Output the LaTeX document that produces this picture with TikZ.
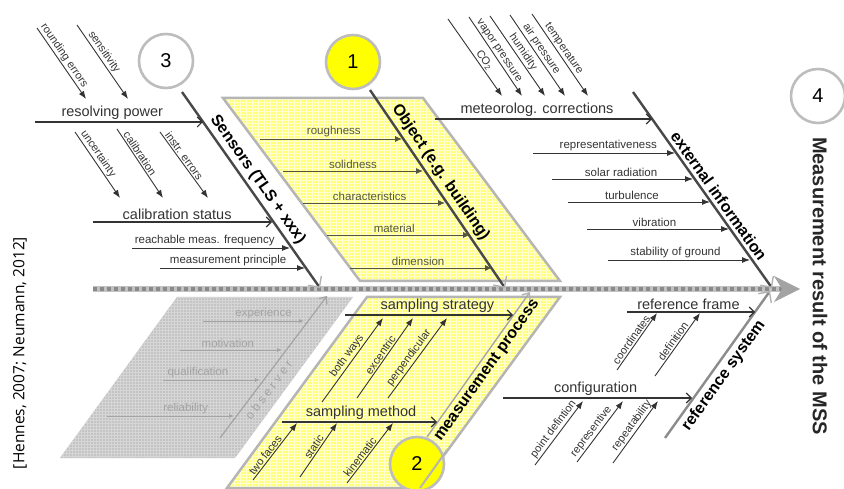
\documentclass[tikz,border=0pt]{standalone}
\usepackage{fontspec}
\setmainfont{Liberation Sans}
\newfontfamily\citefont{Open Sans}
\usetikzlibrary{arrows.meta,calc,patterns}
\definecolor{txt}{HTML}{333333}
\definecolor{linec}{HTML}{333333}
\definecolor{bonec}{HTML}{484848}
\definecolor{yel}{HTML}{FFFF7A}
\definecolor{yelgrid}{HTML}{FFFFD0}
\definecolor{yelborder}{HTML}{B5B5B5}
\definecolor{greyreg}{HTML}{C4C4C4}
\definecolor{greygrid}{HTML}{D6D6D6}
\definecolor{faint}{HTML}{A4A4A4}
\definecolor{objc}{HTML}{55553F}
\definecolor{circb}{HTML}{BDBDBD}
\definecolor{spinelight}{HTML}{C2C2C2}
\definecolor{spinedark}{HTML}{8A8A8A}
\definecolor{spinehead}{HTML}{A3A3A3}
\definecolor{numyel}{HTML}{FFFF00}
\begin{document}
\begin{tikzpicture}[x=1pt,y=-1pt,
  mainarr/.style={draw=linec, line width=1.1pt, -{Straight Barb[length=5pt,width=10pt]}},
  smallarr/.style={draw=linec, line width=0.9pt, -{Latex[length=8pt,width=6pt]}},
  objarr/.style={draw=objc, line width=0.9pt, -{Latex[length=7pt,width=6pt]}},
  faintarr/.style={draw=faint, line width=0.8pt, -{Latex[length=5pt,width=4pt]}},
  bone/.style={draw=bonec, line width=2.4pt, -{Straight Barb[length=8pt,width=16pt,line width=1.4pt,color=gray!60]}},
  mainlab/.style={font=\fontsize{14.5}{16}\selectfont, text=txt, inner sep=1.5pt},
  smalllab/.style={font=\fontsize{11.5}{13}\selectfont, text=txt, inner sep=1.5pt},
  sublab/.style={font=\fontsize{11}{12}\selectfont, text=txt, inner sep=1.2pt},
  objlab/.style={font=\fontsize{11.5}{13}\selectfont, text=objc, inner sep=1.5pt},
  faintlab/.style={font=\fontsize{11.5}{13}\selectfont, text=faint, inner sep=1.5pt},
  bonelab/.style={font=\bfseries\fontsize{16}{18}\selectfont, text=black, inner sep=3pt},
  numcirc/.style={circle, draw=circb, line width=2.6pt, minimum size=54pt, inner sep=0pt, font=\fontsize{20}{22}\selectfont},
  yelreg/.style={preaction={fill=yel}, pattern=grid, pattern color=yelgrid, draw=yelborder, line width=2.5pt},
]
\useasboundingbox (0,0) rectangle (844,489);

% ---------- regions ----------
\path[yelreg] (223,98) -- (423,98) -- (560,281) -- (360,281) -- cycle;
\path[yelreg] (367,297) -- (560,297) -- (420,488) -- (227,488) -- cycle;
\path[preaction={fill=greyreg}, pattern=grid, pattern color=greygrid] (177,297) -- (353,297) -- (235,458) -- (60,458) -- cycle;

% ---------- spine ----------
\coordinate (sp0) at (93,289);
\coordinate (sp1) at (782,289);
\draw[line width=6pt, spinelight] (sp0) -- (sp1);
\draw[line width=4pt, spinedark, dash pattern=on 4pt off 3pt] (sp0) -- (sp1);
\fill[spinehead] (774,276) -- (800,289) -- (774,302) -- (782,289) -- cycle;

% ---------- Sensors ----------
\coordinate (S0) at (182,92); \coordinate (S1) at (320,288);
\draw[bone] (S0) -- (S1) node[bonelab, sloped, above, pos=0.48] (lSens) {Sensors (TLS + xxx)};

\coordinate (rp0) at (35,122); \coordinate (rp1) at (203,122);
\draw[mainarr] (rp0) -- (rp1) node[mainlab, above, pos=0.46] (lrp) {resolving power};
\coordinate (re0) at (37,28); \coordinate (re1) at (86,99);
\draw[smallarr] (re0) -- (re1) node[sublab, sloped, above, pos=0.44] (lre) {rounding errors};
\coordinate (se0) at (77,25); \coordinate (se1) at (128,99);
\draw[smallarr] (se0) -- (se1) node[sublab, sloped, above, pos=0.42] (lse) {sensitivity};

\coordinate (cs0) at (93,222); \coordinate (cs1) at (272,222);
\draw[mainarr] (cs0) -- (cs1) node[mainlab, above, pos=0.47] (lcs) {calibration status};
\coordinate (un0) at (75,132); \coordinate (un1) at (120,198);
\draw[smallarr] (un0) -- (un1) node[sublab, sloped, above, pos=0.39] (lun) {uncertainty};
\coordinate (ca0) at (117,129); \coordinate (ca1) at (163,198);
\draw[smallarr] (ca0) -- (ca1) node[sublab, sloped, above, pos=0.40] (lca) {calibration};
\coordinate (ie0) at (160,132); \coordinate (ie1) at (208,198);
\draw[smallarr] (ie0) -- (ie1) node[sublab, sloped, above, pos=0.41] (lie) {instr. errors};

\coordinate (rf0) at (132,248); \coordinate (rf1) at (290,248);
\draw[smallarr] (rf0) -- (rf1) node[smalllab, above, pos=0.46] (lrf) {reachable meas. frequency};
\coordinate (mp0) at (160,268); \coordinate (mp1) at (305,268);
\draw[smallarr] (mp0) -- (mp1) node[smalllab, above, pos=0.47] (lmp) {measurement principle};

% ---------- Object ----------
\coordinate (O0) at (370,90); \coordinate (O1) at (505,288);
\draw[bone] (O0) -- (O1) node[bonelab, sloped, above, pos=0.45] (lObj) {Object (e.g. building)};
\coordinate (ro0) at (260,139); \coordinate (ro1) at (402,139);
\draw[objarr] (ro0) -- (ro1) node[objlab, above, pos=0.52] (lro) {roughness};
\coordinate (so0) at (283,171); \coordinate (so1) at (423,171);
\draw[objarr] (so0) -- (so1) node[objlab, above, pos=0.50] (lso) {solidness};
\coordinate (ch0) at (303,203); \coordinate (ch1) at (445,203);
\draw[objarr] (ch0) -- (ch1) node[objlab, above, pos=0.47] (lch) {characteristics};
\coordinate (ma0) at (327,235); \coordinate (ma1) at (470,235);
\draw[objarr] (ma0) -- (ma1) node[objlab, above, pos=0.47] (lma) {material};
\coordinate (di0) at (350,268); \coordinate (di1) at (492,268);
\draw[objarr] (di0) -- (di1) node[objlab, above, pos=0.48] (ldi) {dimension};

% ---------- external information ----------
\coordinate (E0) at (633,92); \coordinate (E1) at (772,288);
\draw[bone] (E0) -- (E1) node[bonelab, sloped, above, pos=0.56] (lExt) {external information};
\coordinate (mc0) at (435,119); \coordinate (mc1) at (652,119);
\draw[mainarr] (mc0) -- (mc1) node[mainlab, above, pos=0.47] (lmc) {meteorolog. corrections};
\coordinate (co0) at (448,19); \coordinate (co1) at (502,96);
\draw[smallarr] (co0) -- (co1) node[sublab, sloped, above, pos=0.58] (lco) {CO\textsubscript{2}};
\coordinate (vp0) at (469,17); \coordinate (vp1) at (522,96);
\draw[smallarr] (vp0) -- (vp1) node[sublab, sloped, above, pos=0.47] (lvp) {vapor pressure};
\coordinate (hu0) at (490,16); \coordinate (hu1) at (545,96);
\draw[smallarr] (hu0) -- (hu1) node[sublab, sloped, above, pos=0.50] (lhu) {humidity};
\coordinate (ap0) at (510,15); \coordinate (ap1) at (565,96);
\draw[smallarr] (ap0) -- (ap1) node[sublab, sloped, above, pos=0.47] (lap) {air pressure};
\coordinate (te0) at (532,14); \coordinate (te1) at (588,96);
\draw[smallarr] (te0) -- (te1) node[sublab, sloped, above, pos=0.47] (lte) {temperature};

\coordinate (rv0) at (533,153); \coordinate (rv1) at (675,153);
\draw[smallarr] (rv0) -- (rv1) node[smalllab, above, pos=0.53] (lrv) {representativeness};
\coordinate (sr0) at (552,179); \coordinate (sr1) at (693,179);
\draw[smallarr] (sr0) -- (sr1) node[smalllab, above, pos=0.49] (lsr) {solar radiation};
\coordinate (tu0) at (568,202); \coordinate (tu1) at (710,202);
\draw[smallarr] (tu0) -- (tu1) node[smalllab, above, pos=0.45] (ltu) {turbulence};
\coordinate (vi0) at (587,229); \coordinate (vi1) at (729,229);
\draw[smallarr] (vi0) -- (vi1) node[smalllab, above, pos=0.475] (lvi) {vibration};
\coordinate (sg0) at (608,260); \coordinate (sg1) at (750,260);
\draw[smallarr] (sg0) -- (sg1) node[smalllab, above, pos=0.475] (lsg) {stability of ground};

% ---------- observer (greyed) ----------
\coordinate (B0) at (220,438); \coordinate (B1) at (327,296);
\draw[draw=faint, line width=1.2pt, -{Straight Barb[length=6pt,width=10pt]}] (B0) -- (B1) node[font=\fontsize{12}{14}\selectfont, text=faint, sloped, below, pos=0.38, inner sep=5pt] (lB) {o b s e r v e r};
\coordinate (ex0) at (203,321); \coordinate (ex1) at (304,321);
\draw[faintarr] (ex0) -- (ex1) node[faintlab, above, pos=0.60] (lex) {experience};
\coordinate (mo0) at (180,350); \coordinate (mo1) at (282,350);
\draw[faintarr] (mo0) -- (mo1) node[faintlab, above, pos=0.47] (lmo) {motivation};
\coordinate (qu0) at (163,380); \coordinate (qu1) at (260,380);
\draw[faintarr] (qu0) -- (qu1) node[faintlab, above, pos=0.36] (lqu) {qualification};
\coordinate (rl0) at (107,416); \coordinate (rl1) at (234,416);
\draw[faintarr] (rl0) -- (rl1) node[faintlab, above, pos=0.62] (lrl) {reliability};

% ---------- measurement process ----------
\coordinate (M0) at (427,437); \coordinate (M1) at (530,292);
\draw[draw=gray!70, line width=1.4pt, -{Straight Barb[length=6pt,width=10pt,color=gray!60]}] (M0) -- (M1) node[bonelab, sloped, below, pos=0.5] (lM) {measurement process};
\coordinate (ss0) at (345,315); \coordinate (ss1) at (513,315);
\draw[mainarr] (ss0) -- (ss1) node[mainlab, above, pos=0.55] (lss) {sampling strategy};
\coordinate (bw0) at (322,402); \coordinate (bw1) at (383,318);
\draw[smallarr] (bw0) -- (bw1) node[sublab, sloped, above, pos=0.5] (lbw) {both ways};
\coordinate (xc0) at (357,398); \coordinate (xc1) at (413,318);
\draw[smallarr] (xc0) -- (xc1) node[sublab, sloped, above, pos=0.5] (lxc) {excentric};
\coordinate (pp0) at (388,398); \coordinate (pp1) at (447,318);
\draw[smallarr] (pp0) -- (pp1) node[sublab, sloped, above, pos=0.45] (lpp) {perpendicular};

\coordinate (sm0) at (282,422); \coordinate (sm1) at (437,422);
\draw[mainarr] (sm0) -- (sm1) node[mainlab, above, pos=0.51] (lsm) {sampling method};
\coordinate (tf0) at (253,480); \coordinate (tf1) at (297,423);
\draw[smallarr] (tf0) -- (tf1) node[sublab, sloped, above, pos=0.38] (ltf) {two faces};
\coordinate (st0) at (300,477); \coordinate (st1) at (337,423);
\draw[smallarr] (st0) -- (st1) node[sublab, sloped, above, pos=0.5] (lst) {static};
\coordinate (ki0) at (347,483); \coordinate (ki1) at (393,423);
\draw[smallarr] (ki0) -- (ki1) node[sublab, sloped, above, pos=0.38] (lki) {kinematic};

% ---------- reference system ----------
\coordinate (R0) at (665,438); \coordinate (R1) at (770,291);
\draw[bone, draw=gray!90] (R0) -- (R1) node[bonelab, sloped, below, pos=0.47] (lRef) {reference system};
\coordinate (fr0) at (627,312); \coordinate (fr1) at (755,312);
\draw[mainarr] (fr0) -- (fr1) node[mainlab, above, pos=0.48] (lfr) {reference frame};
\coordinate (cd0) at (617,370); \coordinate (cd1) at (657,313);
\draw[smallarr] (cd0) -- (cd1) node[sublab, sloped, above, pos=0.47] (lcd) {coordinates};
\coordinate (df0) at (655,376); \coordinate (df1) at (700,313);
\draw[smallarr] (df0) -- (df1) node[sublab, sloped, above, pos=0.5] (ldf) {definition};
\coordinate (cf0) at (503,398); \coordinate (cf1) at (692,398);
\draw[mainarr] (cf0) -- (cf1) node[mainlab, above, pos=0.49] (lcf) {configuration};
\coordinate (pd0) at (535,465); \coordinate (pd1) at (583,401);
\draw[smallarr] (pd0) -- (pd1) node[sublab, sloped, above, pos=0.5] (lpd) {point defintion};
\coordinate (rs0) at (577,462); \coordinate (rs1) at (623,401);
\draw[smallarr] (rs0) -- (rs1) node[sublab, sloped, above, pos=0.43] (lrs) {representive};
\coordinate (ra0) at (613,463); \coordinate (ra1) at (658,401);
\draw[smallarr] (ra0) -- (ra1) node[sublab, sloped, above, pos=0.54] (lra) {repeatability};

% ---------- circles ----------
\node[numcirc, fill=white] (c3) at (166,61) {3};
\node[numcirc, fill=numyel] (c1) at (353,62) {1};
\node[numcirc, fill=white] (c4) at (818,96) {4};
\node[numcirc, fill=numyel] (c2) at (417,464) {2};
\draw[yelborder, line width=2pt] (447,450) -- (420,488);

% ---------- titles ----------
\node[rotate=-90, font=\bfseries\fontsize{20}{22}\selectfont, text=black!85] (res) at (820,286) {Measurement result of the MSS};
\node[rotate=90, font=\citefont\fontsize{15.5}{17}\selectfont, text=black] (cite) at (20,353) {[Hennes, 2007; Neumann, 2012]};
\end{tikzpicture}
\end{document}
